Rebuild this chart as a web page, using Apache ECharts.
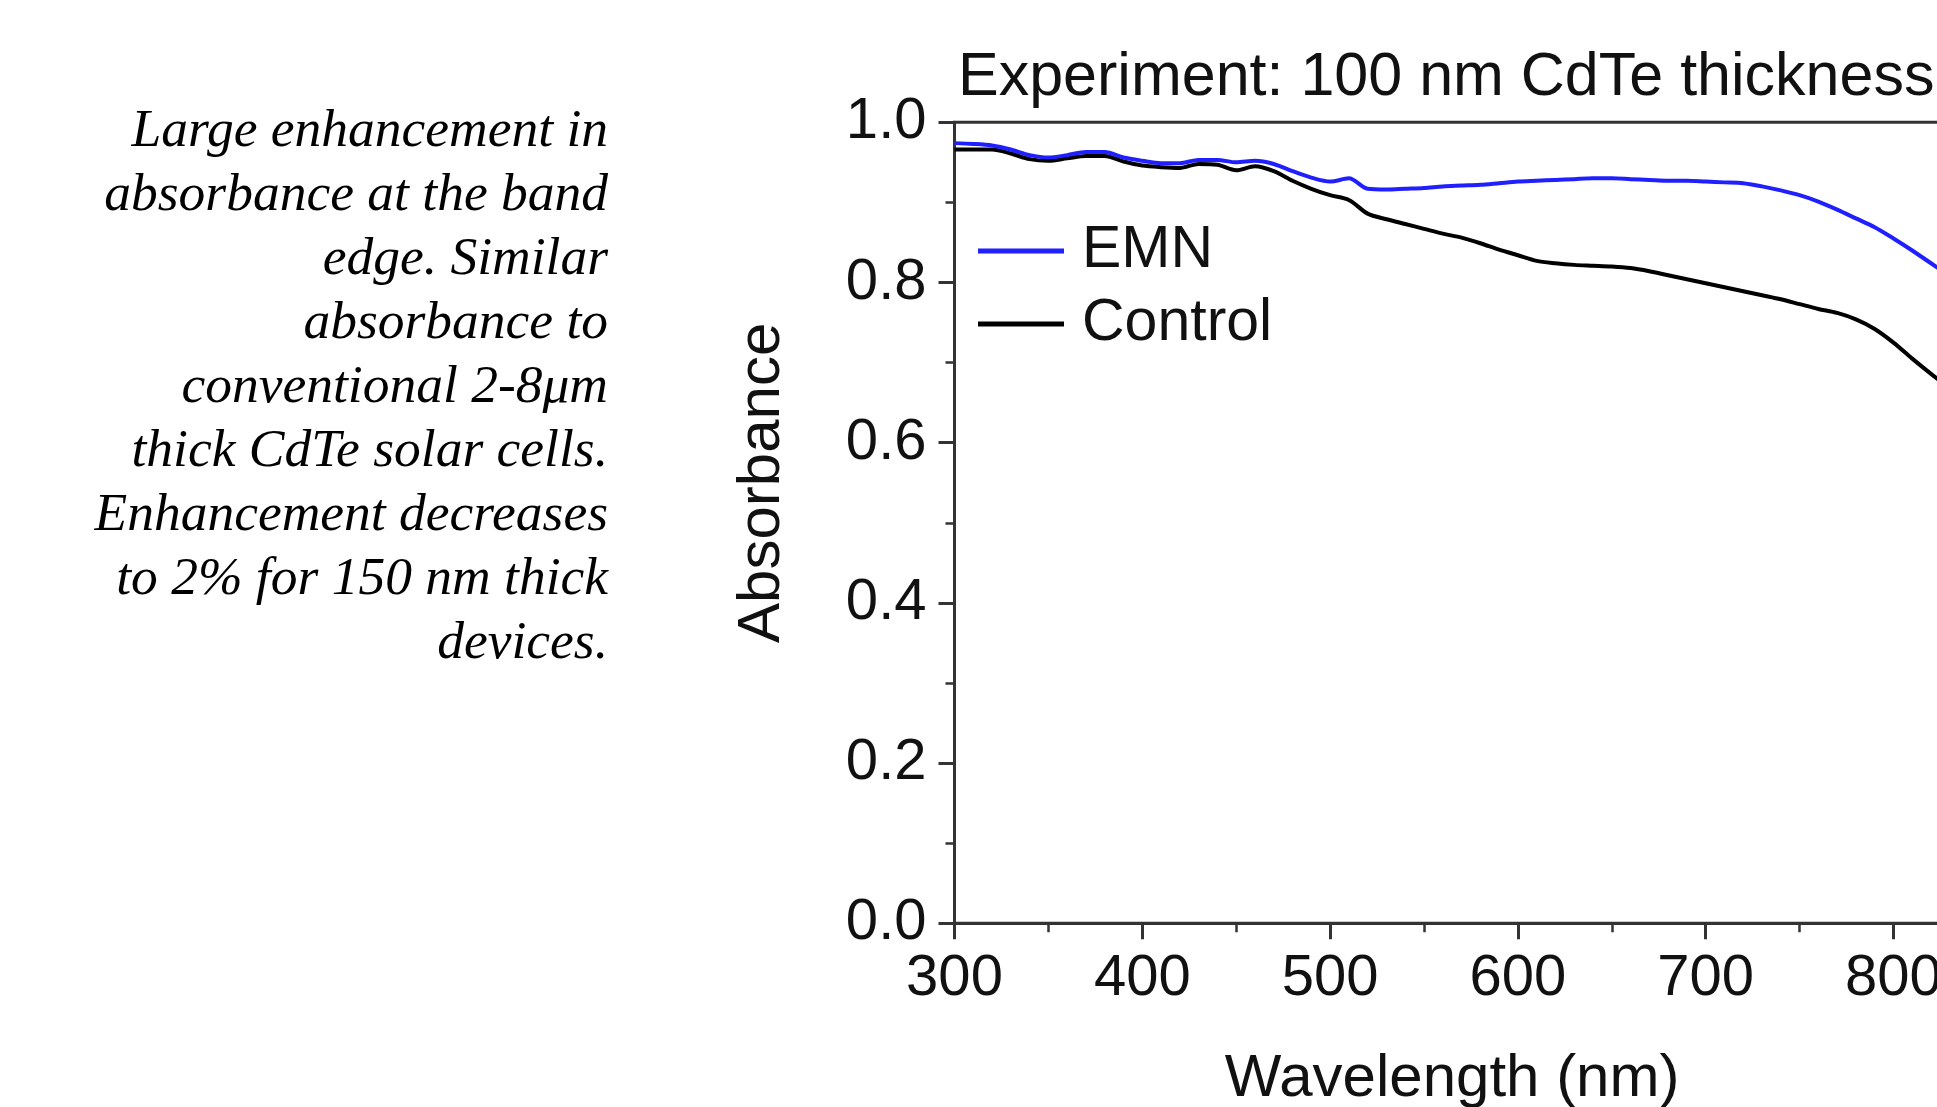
<!DOCTYPE html>
<html>
<head>
<meta charset="utf-8">
<script src="https://cdn.jsdelivr.net/npm/echarts@6/dist/echarts.min.js"></script>
<style>
  html, body { margin: 0; padding: 0; background: #fff; }
  #chart { width: 1937px; height: 1107px; }
</style>
</head>
<body>
<div id="chart"></div>
<script>
// wavelength in nm
var wavelength = [300, 310, 320, 330, 340, 350, 360, 370, 380, 390,
  400, 410, 420, 430, 440, 450, 460, 470, 480, 490,
  500, 510, 520, 530, 540, 550, 560, 570, 580, 590,
  600, 610, 620, 630, 640, 650, 660, 670, 680, 690,
  700, 710, 720, 730, 740, 750, 760, 770, 780, 790,
  800, 810, 820, 830];

var emn = [0.974, 0.973, 0.971, 0.966, 0.959, 0.956, 0.959, 0.963, 0.963, 0.956,
  0.952, 0.949, 0.949, 0.953, 0.953, 0.950, 0.952, 0.948, 0.939, 0.931,
  0.926, 0.930, 0.917, 0.916, 0.917, 0.918, 0.920, 0.921, 0.922, 0.924,
  0.926, 0.927, 0.928, 0.929, 0.930, 0.930, 0.929, 0.928, 0.927, 0.927,
  0.926, 0.925, 0.924, 0.920, 0.915, 0.909, 0.901, 0.891, 0.880, 0.869,
  0.855, 0.840, 0.824, 0.808];

var control = [0.966, 0.966, 0.966, 0.961, 0.954, 0.952, 0.955, 0.958, 0.958, 0.951,
  0.946, 0.944, 0.943, 0.948, 0.947, 0.940, 0.945, 0.939, 0.927, 0.917,
  0.909, 0.903, 0.886, 0.879, 0.873, 0.867, 0.861, 0.856, 0.849, 0.841,
  0.834, 0.827, 0.824, 0.822, 0.821, 0.820, 0.818, 0.814, 0.809, 0.804,
  0.799, 0.794, 0.789, 0.784, 0.779, 0.773, 0.767, 0.762, 0.754, 0.742,
  0.725, 0.705, 0.686, 0.668];

var noteLines = [
  'Large enhancement in',
  'absorbance at the band',
  'edge. Similar',
  'absorbance to',
  'conventional 2-8\u03bcm',
  'thick CdTe solar cells.',
  'Enhancement decreases',
  'to 2% for 150 nm thick',
  'devices.'
];

function pairs(xs, ys) {
  return xs.map(function (x, i) { return [x, ys[i]]; });
}

var sans = '"Liberation Sans", Arial, sans-serif';
var axisColor = '#333';

var chart = echarts.init(document.getElementById('chart'));
chart.setOption({
  animation: false,
  backgroundColor: '#fff',
  title: {
    text: 'Experiment: 100 nm CdTe thickness',
    left: 958,
    top: 48,
    padding: 0,
    textStyle: { fontFamily: sans, fontSize: 61, fontWeight: 'normal', color: '#111' }
  },
  graphic: [{
    type: 'text',
    x: 608,
    y: 100,
    style: {
      text: noteLines.join('\n'),
      textAlign: 'right',
      textVerticalAlign: 'top',
      font: 'italic 53.5px "Liberation Serif", "Times New Roman", serif',
      lineHeight: 64,
      fill: '#000'
    }
  }],
  legend: {
    orient: 'vertical',
    left: 978,
    top: 212,
    padding: 0,
    itemGap: -5,
    itemWidth: 86,
    itemHeight: 5,
    icon: 'rect',
    textStyle: { fontFamily: sans, fontSize: 59, color: '#111', lineHeight: 58, padding: [0, 0, 20, 13] },
    data: ['EMN', 'Control']
  },
  grid: {
    left: 954.5,
    top: 122.3,
    width: 995.3,
    height: 801,
    show: true,
    borderColor: axisColor,
    borderWidth: 3,
    containLabel: false,
    outerBoundsMode: 'none'
  },
  xAxis: {
    type: 'value',
    min: 300,
    max: 830,
    interval: 100,
    name: 'Wavelength (nm)',
    nameLocation: 'middle',
    nameGap: 126,
    nameTextStyle: { fontFamily: sans, fontSize: 60, color: '#111' },
    axisLine: { show: true, lineStyle: { color: axisColor, width: 3 } },
    axisTick: { show: true, inside: false, length: 16, lineStyle: { color: axisColor, width: 3 } },
    minorTick: { show: true, splitNumber: 2, length: 9, lineStyle: { color: axisColor, width: 2.5 } },
    splitLine: { show: false },
    axisLabel: {
      fontFamily: sans, fontSize: 58, color: '#111', margin: 27,
      formatter: function (v) { return v % 100 === 0 ? String(v) : ''; }
    }
  },
  yAxis: {
    type: 'value',
    min: 0,
    max: 1,
    interval: 0.2,
    name: 'Absorbance',
    nameLocation: 'middle',
    nameGap: 162,
    nameTextStyle: { fontFamily: sans, fontSize: 60, color: '#111', padding: [0, 0, 0, 80] },
    axisLine: { show: true, lineStyle: { color: axisColor, width: 3 } },
    axisTick: { show: true, inside: false, length: 16, lineStyle: { color: axisColor, width: 3 } },
    minorTick: { show: true, splitNumber: 2, length: 9, lineStyle: { color: axisColor, width: 2.5 } },
    splitLine: { show: false },
    axisLabel: {
      fontFamily: sans, fontSize: 58, color: '#111', margin: 28,
      formatter: function (v) { return v.toFixed(1); }
    }
  },
  series: [{
    name: 'EMN',
    type: 'line',
    data: pairs(wavelength, emn),
    showSymbol: false,
    smooth: 0.3,
    color: '#1f1fff',
    lineStyle: { color: '#1f1fff', width: 4 },
    z: 3
  }, {
    name: 'Control',
    type: 'line',
    data: pairs(wavelength, control),
    showSymbol: false,
    smooth: 0.3,
    color: '#000',
    lineStyle: { color: '#000', width: 4 },
    z: 2
  }]
});
</script>
</body>
</html>
